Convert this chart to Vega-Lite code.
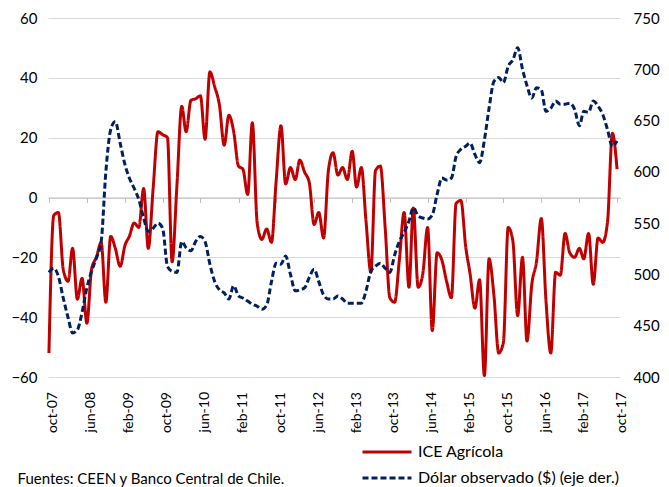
{
  "$schema": "https://vega.github.io/schema/vega-lite/v6.json",
  "width": 572,
  "height": 359,
  "autosize": {"type": "none"},
  "padding": {"left": 48, "top": 18, "right": 49, "bottom": 110},
  "background": "white",
  "config": {
    "font": "Lato",
    "view": {"stroke": null},
    "axis": {"labelFont": "Lato", "labelFontSize": 15, "labelColor": "#000000", "titleFont": "Lato"},
    "legend": {"labelFont": "Lato", "labelFontSize": 16, "labelColor": "#000000"}
  },
  "data": {"values": [
    {"d":"2007-10-01","ice":-52,"dolar":502},{"d":"2007-11-01","ice":-6,"dolar":506},{"d":"2007-12-01","ice":-5,"dolar":498},
    {"d":"2008-01-01","ice":-24,"dolar":477},{"d":"2008-02-01","ice":-28,"dolar":458},{"d":"2008-03-01","ice":-17,"dolar":443},
    {"d":"2008-04-01","ice":-34,"dolar":446},{"d":"2008-05-01","ice":-27,"dolar":463},{"d":"2008-06-01","ice":-42,"dolar":487},
    {"d":"2008-07-01","ice":-24,"dolar":503},{"d":"2008-08-01","ice":-20,"dolar":516},{"d":"2008-09-01","ice":-15,"dolar":532},
    {"d":"2008-10-01","ice":-35,"dolar":600},{"d":"2008-11-01","ice":-13,"dolar":641},{"d":"2008-12-01","ice":-17,"dolar":649},
    {"d":"2009-01-01","ice":-23,"dolar":628},{"d":"2009-02-01","ice":-16,"dolar":607},{"d":"2009-03-01","ice":-13,"dolar":594},
    {"d":"2009-04-01","ice":-8.5,"dolar":584},{"d":"2009-05-01","ice":-10,"dolar":573},{"d":"2009-06-01","ice":3,"dolar":555},
    {"d":"2009-07-01","ice":-17,"dolar":542},{"d":"2009-08-01","ice":3,"dolar":545},{"d":"2009-09-01","ice":22,"dolar":550},
    {"d":"2009-10-01","ice":21,"dolar":545},{"d":"2009-11-01","ice":20,"dolar":508},{"d":"2009-12-01","ice":-21.5,"dolar":503},
    {"d":"2010-01-01","ice":4,"dolar":502},{"d":"2010-02-01","ice":30.5,"dolar":532},{"d":"2010-03-01","ice":22,"dolar":526},
    {"d":"2010-04-01","ice":32.5,"dolar":523},{"d":"2010-05-01","ice":33,"dolar":532},{"d":"2010-06-01","ice":34,"dolar":537},
    {"d":"2010-07-01","ice":19.5,"dolar":532},{"d":"2010-08-01","ice":42,"dolar":510},{"d":"2010-09-01","ice":37,"dolar":493},
    {"d":"2010-10-01","ice":31,"dolar":485},{"d":"2010-11-01","ice":17.5,"dolar":482},{"d":"2010-12-01","ice":27.5,"dolar":476},
    {"d":"2011-01-01","ice":22,"dolar":489},{"d":"2011-02-01","ice":10.5,"dolar":479},{"d":"2011-03-01","ice":9.5,"dolar":477},
    {"d":"2011-04-01","ice":1,"dolar":474},{"d":"2011-05-01","ice":25,"dolar":471},{"d":"2011-06-01","ice":-8.5,"dolar":469},
    {"d":"2011-07-01","ice":-14,"dolar":466},{"d":"2011-08-01","ice":-10.5,"dolar":470},{"d":"2011-09-01","ice":-15,"dolar":493},
    {"d":"2011-10-01","ice":5.5,"dolar":511},{"d":"2011-11-01","ice":24,"dolar":510},{"d":"2011-12-01","ice":4.5,"dolar":518},
    {"d":"2012-01-01","ice":10,"dolar":500},{"d":"2012-02-01","ice":6,"dolar":484},{"d":"2012-03-01","ice":12.5,"dolar":485},
    {"d":"2012-04-01","ice":8.5,"dolar":487},{"d":"2012-05-01","ice":5,"dolar":497},{"d":"2012-06-01","ice":-9,"dolar":505},
    {"d":"2012-07-01","ice":-5,"dolar":493},{"d":"2012-08-01","ice":-13.5,"dolar":480},{"d":"2012-09-01","ice":9,"dolar":476},
    {"d":"2012-10-01","ice":15,"dolar":476},{"d":"2012-11-01","ice":7.5,"dolar":479},{"d":"2012-12-01","ice":10,"dolar":476},
    {"d":"2013-01-01","ice":6,"dolar":472},{"d":"2013-02-01","ice":15.5,"dolar":472},{"d":"2013-03-01","ice":3.5,"dolar":472},
    {"d":"2013-04-01","ice":10,"dolar":472},{"d":"2013-05-01","ice":-8,"dolar":484},{"d":"2013-06-01","ice":-25,"dolar":503},
    {"d":"2013-07-01","ice":9,"dolar":508},{"d":"2013-08-01","ice":10.5,"dolar":511},{"d":"2013-09-01","ice":-10,"dolar":506},
    {"d":"2013-10-01","ice":-33.5,"dolar":502},{"d":"2013-11-01","ice":-35,"dolar":519},{"d":"2013-12-01","ice":-21,"dolar":532},
    {"d":"2014-01-01","ice":-5,"dolar":541},{"d":"2014-02-01","ice":-30,"dolar":552},{"d":"2014-03-01","ice":-3.5,"dolar":565},
    {"d":"2014-04-01","ice":-30,"dolar":557},{"d":"2014-05-01","ice":-25.5,"dolar":555},{"d":"2014-06-01","ice":-10,"dolar":554},
    {"d":"2014-07-01","ice":-44.5,"dolar":558},{"d":"2014-08-01","ice":-18.5,"dolar":578},{"d":"2014-09-01","ice":-21,"dolar":594},
    {"d":"2014-10-01","ice":-28,"dolar":592},{"d":"2014-11-01","ice":-33.5,"dolar":594},{"d":"2014-12-01","ice":-2,"dolar":615},
    {"d":"2015-01-01","ice":-1,"dolar":622},{"d":"2015-02-01","ice":-16.5,"dolar":625},{"d":"2015-03-01","ice":-25.5,"dolar":628},
    {"d":"2015-04-01","ice":-37,"dolar":617},{"d":"2015-05-01","ice":-27.5,"dolar":609},{"d":"2015-06-01","ice":-59.5,"dolar":631},
    {"d":"2015-07-01","ice":-20.5,"dolar":662},{"d":"2015-08-01","ice":-32.5,"dolar":688},{"d":"2015-09-01","ice":-52,"dolar":692},
    {"d":"2015-10-01","ice":-48.5,"dolar":687},{"d":"2015-11-01","ice":-10,"dolar":703},{"d":"2015-12-01","ice":-14.5,"dolar":709},
    {"d":"2016-01-01","ice":-39.5,"dolar":721},{"d":"2016-02-01","ice":-20,"dolar":700},{"d":"2016-03-01","ice":-48,"dolar":684},
    {"d":"2016-04-01","ice":-29,"dolar":672},{"d":"2016-05-01","ice":-21.5,"dolar":682},{"d":"2016-06-01","ice":-7,"dolar":680},
    {"d":"2016-07-01","ice":-34.5,"dolar":659},{"d":"2016-08-01","ice":-52,"dolar":662},{"d":"2016-09-01","ice":-25,"dolar":669},
    {"d":"2016-10-01","ice":-26,"dolar":666},{"d":"2016-11-01","ice":-12,"dolar":666},{"d":"2016-12-01","ice":-18.5,"dolar":667},
    {"d":"2017-01-01","ice":-20,"dolar":661},{"d":"2017-02-01","ice":-17,"dolar":645},{"d":"2017-03-01","ice":-20.5,"dolar":659},
    {"d":"2017-04-01","ice":-12,"dolar":658},{"d":"2017-05-01","ice":-29,"dolar":669},{"d":"2017-06-01","ice":-13.5,"dolar":664},
    {"d":"2017-07-01","ice":-15,"dolar":656},{"d":"2017-08-01","ice":-8,"dolar":641},{"d":"2017-09-01","ice":21.5,"dolar":625},
    {"d":"2017-10-01","ice":9.5,"dolar":630}
  ]},
  "encoding": {
    "x": {
      "field": "d", "type": "temporal",
      "scale": {"type": "utc", "domain": [{"year": 2007, "month": 9, "date": 25, "utc": true}, {"year": 2017, "month": 10, "date": 20, "utc": true}]},
      "axis": {
        "orient": "bottom", "offset": -179.5, "grid": false,
        "domain": true, "domainColor": "#BFBFBF", "domainWidth": 1,
        "ticks": true, "tickColor": "#BFBFBF", "tickSize": 5,
        "values": [
          {"year": 2007, "month": 10, "date": 1, "utc": true}, {"year": 2008, "month": 6, "date": 1, "utc": true},
          {"year": 2009, "month": 2, "date": 1, "utc": true}, {"year": 2009, "month": 10, "date": 1, "utc": true},
          {"year": 2010, "month": 6, "date": 1, "utc": true}, {"year": 2011, "month": 2, "date": 1, "utc": true},
          {"year": 2011, "month": 10, "date": 1, "utc": true}, {"year": 2012, "month": 6, "date": 1, "utc": true},
          {"year": 2013, "month": 2, "date": 1, "utc": true}, {"year": 2013, "month": 10, "date": 1, "utc": true},
          {"year": 2014, "month": 6, "date": 1, "utc": true}, {"year": 2015, "month": 2, "date": 1, "utc": true},
          {"year": 2015, "month": 10, "date": 1, "utc": true}, {"year": 2016, "month": 6, "date": 1, "utc": true},
          {"year": 2017, "month": 2, "date": 1, "utc": true}, {"year": 2017, "month": 10, "date": 1, "utc": true}
        ],
        "labelExpr": "['ene','feb','mar','abr','may','jun','jul','ago','sep','oct','nov','dic'][utcmonth(datum.value)] + '-' + utcFormat(datum.value, '%y')",
        "labelAngle": -90, "labelAlign": "right", "labelBaseline": "middle", "labelFontSize": 14,
        "labelPadding": 189, "labelOffset": 4, "labelFlush": false, "labelOverlap": false, "labelSeparation": 0,
        "title": "Fuentes: CEEN y Banco Central de Chile.",
        "titleFontSize": 15, "titleFontWeight": "normal", "titleColor": "#000000",
        "titleX": -31, "titleY": 281, "titleAlign": "left", "titleBaseline": "middle", "titleAngle": 0
      }
    },
    "color": {
      "field": "serie", "type": "nominal",
      "scale": {"domain": ["ice", "dolar"], "range": ["#C00000", "#002060"]},
      "legend": {
        "title": null, "orient": "none", "legendX": 331, "legendY": 426,
        "symbolType": "M-4.9,0H4.9", "symbolSize": 100, "symbolStrokeWidth": 3,
        "labelOffset": 23, "rowPadding": 10, "labelLimit": 400,
        "labelExpr": "datum.label == 'ice' ? 'ICE Agrícola' : 'Dólar observado ($) (eje der.)'"
      }
    },
    "strokeDash": {
      "field": "serie", "type": "nominal",
      "scale": {"domain": ["ice", "dolar"], "range": [[1, 0], [6, 3]]},
      "legend": {
        "title": null, "orient": "none", "legendX": 331, "legendY": 426,
        "symbolType": "M-4.9,0H4.9", "symbolSize": 100, "symbolStrokeWidth": 3,
        "labelOffset": 23, "rowPadding": 10, "labelLimit": 400,
        "labelExpr": "datum.label == 'ice' ? 'ICE Agrícola' : 'Dólar observado ($) (eje der.)'"
      }
    }
  },
  "layer": [
    {
      "transform": [{"fold": ["ice"], "as": ["serie", "valor"]}],
      "mark": {"type": "line", "strokeWidth": 3, "interpolate": "monotone"},
      "encoding": {
        "y": {
          "field": "valor", "type": "quantitative",
          "scale": {"domain": [-60, 60], "nice": false, "zero": false},
          "axis": {
            "orient": "left", "values": [-60, -40, -20, 0, 20, 40, 60],
            "grid": true, "gridColor": "#D9D9D9", "gridWidth": 1.2,
            "domain": false, "ticks": false, "labelPadding": 11, "title": null
          }
        }
      }
    },
    {
      "transform": [{"fold": ["dolar"], "as": ["serie", "valor"]}],
      "mark": {"type": "line", "strokeWidth": 3, "interpolate": "monotone"},
      "encoding": {
        "y": {
          "field": "valor", "type": "quantitative",
          "scale": {"domain": [400, 750], "nice": false, "zero": false},
          "axis": {
            "orient": "right", "values": [400, 450, 500, 550, 600, 650, 700, 750],
            "grid": false, "domain": false, "ticks": false, "labelPadding": 13, "title": null
          }
        }
      }
    }
  ],
  "resolve": {"scale": {"y": "independent"}}
}
